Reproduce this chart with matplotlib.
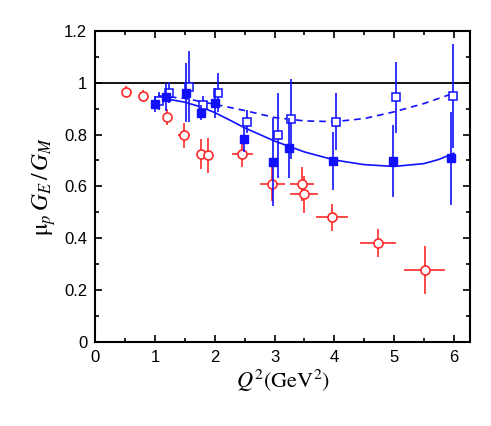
import numpy as np
import matplotlib
matplotlib.use("Agg")
import matplotlib.pyplot as plt
from matplotlib.ticker import MultipleLocator

plt.rcParams['font.family'] = ['Liberation Sans', 'DejaVu Sans']
plt.rcParams['mathtext.fontset'] = 'stix'

# red open circles
red_x = [0.51, 0.80, 1.19, 1.49, 1.77, 1.88, 2.46, 2.96, 3.46, 3.49, 3.96, 4.73, 5.51]
red_y = [0.966, 0.949, 0.868, 0.797, 0.725, 0.720, 0.724, 0.610, 0.608, 0.569, 0.480, 0.382, 0.276]
red_xerr = [0.0, 0.0, 0.0, 0.10, 0.0, 0.0, 0.18, 0.21, 0.20, 0.23, 0.27, 0.30, 0.35]
red_yerr = [0.022, 0.022, 0.030, 0.048, 0.058, 0.068, 0.050, 0.065, 0.065, 0.072, 0.053, 0.055, 0.092]

# blue filled squares
bf_x = [1.00, 1.18, 1.51, 1.76, 2.00, 2.49, 2.98, 3.24, 3.98, 4.99, 5.95]
bf_y = [0.918, 0.946, 0.962, 0.885, 0.923, 0.782, 0.694, 0.750, 0.699, 0.699, 0.708]
bf_yerr = [0.032, 0.054, 0.113, 0.030, 0.058, 0.048, 0.170, 0.116, 0.113, 0.140, 0.180]

# blue open squares
bo_x = [1.06, 1.23, 1.57, 1.80, 2.05, 2.54, 3.05, 3.28, 4.03, 5.03, 5.99]
bo_y = [0.930, 0.962, 0.985, 0.914, 0.962, 0.850, 0.797, 0.859, 0.850, 0.944, 0.949]
bo_yerr = [0.035, 0.040, 0.138, 0.035, 0.075, 0.045, 0.163, 0.155, 0.110, 0.138, 0.200]

# fit curves
solid_x = [1.10, 1.50, 1.75, 2.00, 2.25, 2.50, 3.00, 3.50, 4.00, 4.50, 5.00, 5.50, 5.75, 6.00]
solid_y = [0.942, 0.925, 0.908, 0.885, 0.856, 0.826, 0.775, 0.733, 0.702, 0.684, 0.677, 0.688, 0.704, 0.728]
dash_x = [1.05, 1.50, 2.00, 2.50, 3.00, 3.50, 4.00, 4.50, 5.00, 5.50, 6.00]
dash_y = [0.950, 0.940, 0.917, 0.893, 0.866, 0.853, 0.850, 0.862, 0.888, 0.920, 0.960]

red = '#ff2a2a'
blue = '#1010ff'

fig = plt.figure(figsize=(4.91, 4.26), dpi=100)
ax = fig.add_axes([0.1945, 0.198, 0.7625, 0.729])

ax.axhline(1.0, color='black', lw=1.3, zorder=1)

ax.errorbar(red_x, red_y, xerr=red_xerr, yerr=red_yerr, fmt='o', color=red,
            mfc='white', mec=red, ms=6.5, mew=1.2, elinewidth=1.2, capsize=0, zorder=2)

ax.plot(solid_x, solid_y, '-', color=blue, lw=1.2, zorder=3)
ax.plot(dash_x, dash_y, '--', color=blue, lw=1.2, dashes=(4, 3), zorder=3)

ax.errorbar(bo_x, bo_y, yerr=bo_yerr, fmt='s', color=blue, mfc='white', mec=blue,
            ms=5.5, mew=1.1, elinewidth=1.2, capsize=0, zorder=4)
ax.errorbar(bf_x, bf_y, yerr=bf_yerr, fmt='s', color=blue, mfc=blue, mec=blue,
            ms=5.3, mew=1.0, elinewidth=1.2, capsize=0, zorder=5)

ax.set_xlim(0, 6.27)
ax.set_ylim(0, 1.2)
ax.xaxis.set_major_locator(MultipleLocator(1))
ax.xaxis.set_minor_locator(MultipleLocator(0.5))
ax.yaxis.set_major_locator(MultipleLocator(0.2))
ax.yaxis.set_minor_locator(MultipleLocator(0.1))
ax.set_yticks([0, 0.2, 0.4, 0.6, 0.8, 1.0, 1.2])
ax.set_yticklabels(['0', '0.2', '0.4', '0.6', '0.8', '1', '1.2'])
ax.tick_params(which='both', direction='in', top=True, right=True, labelsize=12, width=1.2)
ax.tick_params(which='major', length=5, pad=6)
ax.tick_params(which='minor', length=3)
for s in ax.spines.values():
    s.set_linewidth(1.5)

ax.set_xlabel(r'$Q^2(\mathrm{GeV}^2)$', fontsize=16, labelpad=2)
ax.set_ylabel(r'$\mathrm{\mu}_p\, G_E\,/\,G_M$', fontsize=17, labelpad=4)

fig.savefig('out.png', dpi=100)
